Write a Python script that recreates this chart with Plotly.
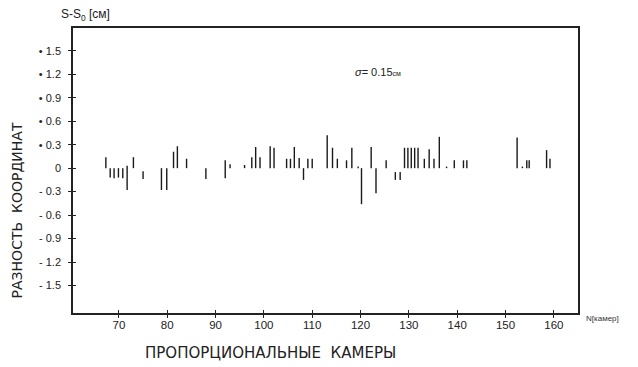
import plotly.graph_objects as go

# Chamber numbers and coordinate differences (cm)
chambers = [67.3, 68.2, 69.0, 69.9, 70.8, 71.7, 73.0, 75.0, 78.8, 79.9,
            81.3, 82.1, 84.0, 88.0, 92.0, 93.0, 96.0, 97.5, 98.3, 99.2,
            101.3, 102.1, 104.7, 105.5, 106.3, 107.3, 108.2, 109.1, 110.0, 113.1,
            114.2, 115.2, 117.1, 118.2, 119.5, 120.2, 122.2, 123.2, 125.3, 127.2,
            128.2, 129.1, 129.8, 130.5, 131.2, 131.9, 133.2, 134.2, 135.2, 136.3,
            137.8, 139.4, 141.3, 142.0, 152.4, 153.5, 154.4, 154.9, 158.5, 159.2]
high = [0.14, 0.0, 0.0, 0.0, 0.0, 0.03, 0.14, -0.04, 0.0, 0.0,
        0.21, 0.28, 0.12, 0.0, 0.10, 0.05, 0.04, 0.14, 0.27, 0.14,
        0.28, 0.26, 0.12, 0.12, 0.27, 0.13, 0.0, 0.12, 0.12, 0.42,
        0.26, 0.12, 0.10, 0.26, 0.02, 0.0, 0.27, 0.0, 0.10, -0.05,
        -0.05, 0.26, 0.26, 0.26, 0.26, 0.26, 0.12, 0.24, 0.12, 0.40,
        0.02, 0.10, 0.10, 0.10, 0.39, 0.02, 0.10, 0.10, 0.23, 0.12]
low = [0.0, -0.12, -0.13, -0.12, -0.13, -0.28, 0.0, -0.14, -0.28, -0.28,
       0.0, 0.0, 0.0, -0.14, -0.13, 0.0, 0.0, 0.0, 0.0, 0.0,
       0.0, 0.0, 0.0, 0.0, 0.0, 0.0, -0.15, 0.0, 0.0, 0.0,
       0.0, 0.0, 0.0, 0.0, 0.0, -0.46, 0.0, -0.32, 0.0, -0.15,
       -0.15, 0.0, 0.0, 0.0, 0.0, 0.0, 0.0, 0.0, 0.0, 0.0,
       0.0, 0.0, 0.0, 0.0, 0.0, 0.0, 0.0, 0.0, 0.0, 0.0]

x_ticks = [70, 80, 90, 100, 110, 120, 130, 140, 150, 160]
y_ticks = [1.5, 1.2, 0.9, 0.6, 0.3, 0, -0.3, -0.6, -0.9, -1.2, -1.5]
y_ticklabels = ["• 1.5", "• 1.2", "• 0.9", "• 0.6", "• 0.3", "0",
                "- 0.3", "- 0.6", "- 0.9", "- 1.2", "- 1.5"]

font = "Liberation Sans, Arial, sans-serif"
title_font = "DejaVu Sans, sans-serif"
xr = [60.5, 165]
yr = [-1.85, 1.79]

# vertical segments built from the data arrays
seg_x, seg_y = [], []
for n, lo, hi in zip(chambers, low, high):
    seg_x += [n, n, None]
    seg_y += [lo, hi, None]

fig = go.Figure()
fig.add_trace(go.Scatter(
    x=seg_x, y=seg_y, mode="lines",
    line=dict(color="#1a1a1a", width=1.4),
    showlegend=False, hoverinfo="skip",
))
# invisible trace to carry the secondary (crossing-tick) axes
fig.add_trace(go.Scatter(x=[None], y=[None], xaxis="x2", yaxis="y2",
                         showlegend=False, hoverinfo="skip"))

fig.update_layout(
    width=638, height=367,
    margin=dict(l=73, r=60, t=28, b=54),
    paper_bgcolor="white", plot_bgcolor="white",
    font=dict(family=font, color="#222222", size=11),
    xaxis=dict(range=xr, tickvals=x_ticks, ticks="outside", ticklen=3,
               tickcolor="#222", showgrid=False, zeroline=False,
               showline=True, linecolor="#222", linewidth=1.5, mirror=True,
               ticklabelstandoff=-3, tickfont=dict(size=11.5)),
    yaxis=dict(range=yr, tickvals=y_ticks, ticktext=y_ticklabels,
               ticks="outside", ticklen=3, tickcolor="#222",
               showgrid=False, zeroline=False, showline=True,
               linecolor="#222", linewidth=1.5, mirror=True,
               ticklabelstandoff=5, tickfont=dict(size=11)),
    xaxis2=dict(range=xr, tickvals=x_ticks, ticks="inside", ticklen=3,
                tickcolor="#222", showticklabels=False, showgrid=False,
                zeroline=False, overlaying="x", anchor="y2"),
    yaxis2=dict(range=yr, tickvals=y_ticks, ticks="inside", ticklen=3,
                tickcolor="#222", showticklabels=False, showgrid=False,
                zeroline=False, overlaying="y", anchor="x2"),
    annotations=[
        dict(text="S-S<sub>0</sub> [см]", xref="paper", yref="paper",
             x=-0.027, y=1.0, xanchor="left", yanchor="bottom", yshift=3,
             showarrow=False, font=dict(size=12, color="#222222")),
        dict(text="N[камер]", xref="paper", yref="paper",
             x=1.0, y=0.0, xanchor="left", yanchor="middle", xshift=6, yshift=-5,
             showarrow=False, font=dict(size=8, color="#333333")),
        dict(text="РАЗНОСТЬ  КООРДИНАТ", xref="paper", yref="paper",
             x=0, y=0.36, xanchor="center", yanchor="middle", xshift=-56,
             textangle=-90, showarrow=False,
             font=dict(size=14, family=title_font, color="#222222")),
        dict(text="ПРОПОРЦИОНАЛЬНЫЕ  КАМЕРЫ", xref="paper", yref="paper",
             x=0.392, y=0, xanchor="center", yanchor="top", yshift=-29,
             showarrow=False, font=dict(size=15, family=title_font, color="#222222")),
        dict(text="<i>σ</i>= 0.15<span style='font-size:7px'>см</span>",
             xref="x", yref="y", x=118.5, y=1.23, xanchor="left", yanchor="middle",
             showarrow=False, font=dict(size=11, color="#222222")),
    ],
)

fig.write_html("out.html", config={"displayModeBar": False},
               post_script="document.body.style.margin='0';")
